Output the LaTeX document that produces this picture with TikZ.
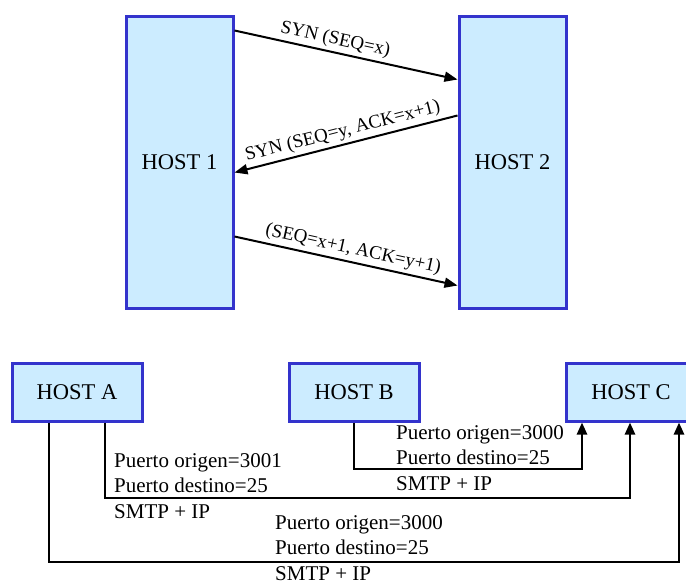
\documentclass[tikz,border=0pt]{standalone}
\usepackage{fontspec}
\setmainfont{Liberation Serif}
\usetikzlibrary{arrows.meta, positioning}
\definecolor{hostfill}{HTML}{CCECFF}
\definecolor{hostline}{HTML}{3333CC}

\begin{document}
\begin{tikzpicture}[
  x=1pt, y=-1pt,
  host/.style={draw=hostline, fill=hostfill, line width=3pt, inner sep=0pt,
               font=\fontsize{22.5}{27}\selectfont},
  tall/.style={host, minimum width=107pt, minimum height=292pt},
  flat/.style={host, minimum width=130pt, minimum height=58pt},
  msg/.style={line width=2pt, -{Triangle[length=13pt, width=10pt]}},
  lbl/.style={sloped, above, inner sep=3pt, font=\fontsize{19}{22}\selectfont},
  lnk/.style={line width=2.5pt, -{Triangle[length=12pt, width=10pt]}},
  port/.style={align=left, anchor=north west, inner sep=0pt,
               font=\fontsize{21}{25.5}\selectfont}]

  \useasboundingbox (0,0) rectangle (686,582);
  \clip (0,0) rectangle (686,582);

  % three-way handshake
  \node[tall] (h1) at (179.5,162) {HOST 1};
  \node[tall, right=223pt of h1] (h2) {HOST 2};

  \draw[msg] ([yshift=-16pt]h1.north east) --
    node[lbl, pos=0.44] {SYN (SEQ=x)} ([yshift=-65pt]h2.north west);
  \draw[msg] ([yshift=-101pt]h2.north west) --
    node[lbl] {SYN (SEQ=y, ACK=x+1)} ([yshift=-158pt]h1.north east);
  \draw[msg] ([yshift=-222pt]h1.north east) --
    node[lbl, pos=0.52] {(SEQ=x+1, ACK=y+1)} ([yshift=-271pt]h2.north west);

  % connections to host C
  \node[flat] (ha) at (77,392) {HOST A};
  \node[flat, right=144pt of ha] (hb) {HOST B};
  \node[flat, right=144pt of hb] (hc) {HOST C};

  \draw[lnk] ([xshift=38.5pt]ha.south west) -- ++(0,139.5)
    -| ([xshift=-18.5pt]hc.south east);
  \draw[lnk] ([xshift=94.5pt]ha.south west) -- ++(0,75.5)
    -| ([xshift=-1pt]hc.south);
  \draw[lnk] (hb.south) -- ++(0,46.5) -| ([xshift=17.5pt]hc.south west);

  \node[port] (p1) at (114,453) {Puerto origen=3001\\Puerto destino=25\\SMTP + IP};
  \node[port] (p2) at (396,425) {Puerto origen=3000\\Puerto destino=25\\SMTP + IP};
  \node[port] (p3) at (275,515) {Puerto origen=3000\\Puerto destino=25\\SMTP + IP};
\end{tikzpicture}
\end{document}
